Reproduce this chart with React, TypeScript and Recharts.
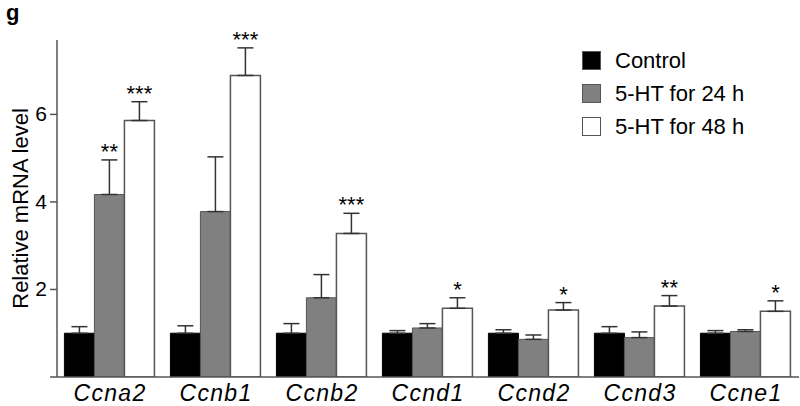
import React from "react";
import { BarChart, Bar, XAxis, YAxis, ErrorBar, LabelList, Legend } from "recharts";

const genes = ["Ccna2", "Ccnb1", "Ccnb2", "Ccnd1", "Ccnd2", "Ccnd3", "Ccne1"];
const seriesNames = ["Control", "5-HT for 24 h", "5-HT for 48 h"];

const control = [1.0, 1.0, 1.0, 1.0, 1.0, 1.0, 1.0];
const controlErr = [0.15, 0.17, 0.22, 0.06, 0.08, 0.15, 0.06];

const ht24 = [4.17, 3.78, 1.81, 1.12, 0.86, 0.9, 1.04];
const ht24Err = [0.79, 1.25, 0.53, 0.1, 0.1, 0.13, 0.04];
const stars24 = ["**", "", "", "", "", "", ""];

const ht48 = [5.86, 6.89, 3.28, 1.57, 1.53, 1.62, 1.5];
const ht48Err = [0.43, 0.63, 0.46, 0.24, 0.17, 0.24, 0.24];
const stars48 = ["***", "***", "***", "*", "*", "**", "*"];

const yTicks = [0, 2, 4, 6];

const data = genes.map((g, i) => ({
  gene: g,
  control: control[i],
  controlErr: [0, controlErr[i]],
  ht24: ht24[i],
  ht24Err: [0, ht24Err[i]],
  ht24Stars: stars24[i],
  ht48: ht48[i],
  ht48Err: [0, ht48Err[i]],
  ht48Stars: stars48[i],
}));

const FONT = "'Liberation Sans', Arial, Helvetica, sans-serif";

// stars sit just above the error bar cap
const makeStars = (values: number[], errs: number[]) => (props: any) => {
  const { index, value } = props;
  const vb = props.viewBox || props;
  const x = vb.x ?? props.x;
  const y = vb.y ?? props.y;
  const w = vb.width ?? props.width;
  const h = vb.height ?? props.height;
  if (!value) return null;
  const perUnit = h / values[index];
  const capY = y - errs[index] * perUnit;
  return (
    <text x={x + w / 2} y={capY - 1} textAnchor="middle" fontSize={22} fontFamily={FONT} fill="#000">
      {value}
    </text>
  );
};

const XTick = (props: any) => {
  const { x, y, payload } = props;
  return (
    <text x={x} y={y + 24} textAnchor="middle" fontSize={23} fontStyle="italic" letterSpacing={1.3} fontFamily={FONT} fill="#000">
      {payload.value}
    </text>
  );
};

const YTick = (props: any) => {
  const { x, y, payload } = props;
  if (payload.value === 0) return null;
  return (
    <text x={x} y={y} dy={7} textAnchor="end" fontSize={21} fontFamily={FONT} fill="#000">
      {payload.value}
    </text>
  );
};

const LegendBox = (props: any) => {
  const items = [...(props.payload || [])].sort(
    (a: any, b: any) => seriesNames.indexOf(a.value) - seriesNames.indexOf(b.value)
  );
  return (
    <div style={{ fontFamily: FONT, fontSize: 22 }}>
      {items.map((p: any, i: number) => (
        <div key={i} style={{ display: "flex", alignItems: "center", height: 33 }}>
          <span
            style={{
              display: "inline-block",
              width: 17,
              height: 17,
              background: p.payload?.fill ?? p.color,
              border: "1px solid #555",
              marginRight: 14,
            }}
          />
          <span>{p.value}</span>
        </div>
      ))}
    </div>
  );
};

export default function App() {
  return (
    <div style={{ position: "absolute", left: 0, top: 0, width: 800, height: 406, background: "#fff" }}>
      <div style={{ position: "absolute", left: 6, top: 0, fontFamily: FONT, fontSize: 22, fontWeight: "bold" }}>g</div>
      <BarChart
        width={800}
        height={406}
        data={data}
        margin={{ top: 40, right: 1, bottom: 0, left: 0 }}
        barCategoryGap="7%"
        barGap={0}
      >
        <XAxis
          dataKey="gene"
          height={29}
          tickLine={false}
          tickSize={0}
          tickMargin={0}
          axisLine={{ stroke: "#555", strokeWidth: 1.5 }}
          tick={<XTick />}
          interval={0}
        />
        <YAxis
          width={57}
          domain={[0, 7.7]}
          ticks={yTicks}
          allowDataOverflow
          tickSize={7}
          tickMargin={3}
          axisLine={{ stroke: "#555", strokeWidth: 1.5 }}
          tickLine={{ stroke: "#555", strokeWidth: 1.5 }}
          tick={<YTick />}
          label={{
            value: "Relative mRNA level",
            angle: -90,
            position: "insideLeft",
            offset: 20,
            style: { textAnchor: "middle", fontSize: 22, fontFamily: FONT, fill: "#000" },
          }}
        />
        <Legend
          layout="vertical"
          align="center"
          verticalAlign="middle"
          content={<LegendBox />}
          wrapperStyle={{ position: "absolute", top: 44, left: 582, width: 210 }}
        />
        <Bar dataKey="control" name={seriesNames[0]} fill="#000000" stroke="#000000" strokeWidth={1} isAnimationActive={false}>
          <ErrorBar dataKey="controlErr" width={8} stroke="#333" strokeWidth={1.5} direction="y" />
        </Bar>
        <Bar dataKey="ht24" name={seriesNames[1]} fill="#808080" stroke="#555555" strokeWidth={1} isAnimationActive={false}>
          <ErrorBar dataKey="ht24Err" width={8} stroke="#333" strokeWidth={1.5} direction="y" />
          <LabelList dataKey="ht24Stars" content={makeStars(ht24, ht24Err)} />
        </Bar>
        <Bar dataKey="ht48" name={seriesNames[2]} fill="#ffffff" stroke="#555555" strokeWidth={1.5} isAnimationActive={false}>
          <ErrorBar dataKey="ht48Err" width={8} stroke="#333" strokeWidth={1.5} direction="y" />
          <LabelList dataKey="ht48Stars" content={makeStars(ht48, ht48Err)} />
        </Bar>
      </BarChart>
    </div>
  );
}
